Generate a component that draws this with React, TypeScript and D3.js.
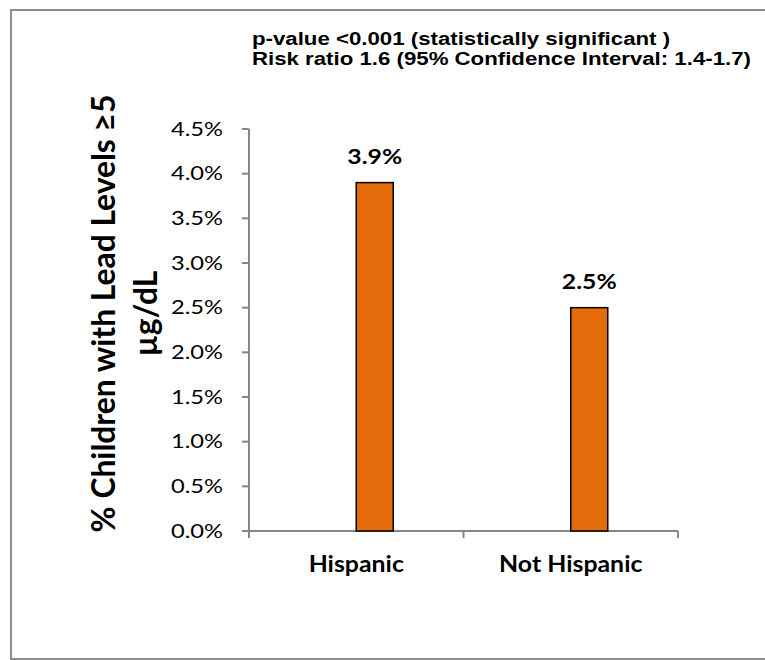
import React, { useEffect, useRef } from "react";
import * as d3 from "d3";

const categories = ["Hispanic", "Not Hispanic"];
const values = [3.9, 2.5];
const valueLabels = ["3.9%", "2.5%"];
const yTicks = [0, 0.5, 1, 1.5, 2, 2.5, 3, 3.5, 4, 4.5];
const noteLines = [
  "p-value <0.001 (statistically significant )",
  "Risk ratio 1.6 (95% Confidence Interval: 1.4-1.7)",
];
const yTitleLines = ["% Children with Lead Levels \u22655", "\u00b5g/dL"];

const W = 765;
const H = 660;
const plot = { left: 249, right: 678, top: 129, bottom: 531 };
const CAL = "Lato, 'Open Sans', sans-serif";
const ARIAL = "'Liberation Sans', Arial, sans-serif";

export default function App() {
  const ref = useRef<SVGSVGElement | null>(null);

  useEffect(() => {
    const svg = d3.select(ref.current);
    svg.selectAll("*").remove();

    const x = d3.scaleBand<string>().domain(categories).range([plot.left, plot.right]);
    const y = d3.scaleLinear().domain([0, 4.5]).range([plot.bottom, plot.top]);

    const addText = (
      px: number, py: number, txt: string, size: number, sx: number,
      anchor: string, family: string, bold: boolean
    ) =>
      svg.append("text")
        .attr("transform", `translate(${px},${py}) scale(${sx},1)`)
        .attr("text-anchor", anchor).attr("font-family", family)
        .attr("font-weight", bold ? "bold" : "normal")
        .attr("font-size", size).attr("fill", "#000").text(txt);

    // outer frame
    svg.append("rect").attr("x", 11).attr("y", 10).attr("width", W).attr("height", 649)
      .attr("fill", "white").attr("stroke", "#8c8c8c").attr("stroke-width", 2);

    // note text
    noteLines.forEach((l, i) => {
      addText(252, 45 + i * 20, l, 17.5, 1.27, "start", ARIAL, true);
    });

    // y axis
    const axisColor = "#868686";
    svg.append("line").attr("x1", plot.left).attr("x2", plot.left)
      .attr("y1", plot.top).attr("y2", plot.bottom).attr("stroke", axisColor).attr("stroke-width", 2);
    yTicks.forEach((t) => {
      svg.append("line").attr("x1", plot.left - 7).attr("x2", plot.left)
        .attr("y1", y(t)).attr("y2", y(t)).attr("stroke", axisColor).attr("stroke-width", 2);
      addText(223, y(t) + 6.8, d3.format(".1f")(t) + "%", 18.5, 1.28, "end", CAL, false);
    });

    // x axis
    svg.append("line").attr("x1", plot.left - 7).attr("x2", plot.right)
      .attr("y1", plot.bottom).attr("y2", plot.bottom).attr("stroke", axisColor).attr("stroke-width", 2);
    [plot.left, ...categories.map((c) => (x(c) as number) + x.bandwidth())].forEach((px) => {
      svg.append("line").attr("x1", px).attr("x2", px).attr("y1", plot.bottom)
        .attr("y2", plot.bottom + 7).attr("stroke", axisColor).attr("stroke-width", 2);
    });

    const barW = 37;
    categories.forEach((c, i) => {
      const cx = (x(c) as number) + x.bandwidth() / 2;
      svg.append("rect").attr("x", cx).attr("y", y(values[i]))
        .attr("width", barW).attr("height", y(0) - y(values[i]))
        .attr("fill", "#E46C0A").attr("stroke", "#000").attr("stroke-width", 1.5);
      addText(cx + barW / 2, y(values[i]) - 19, valueLabels[i], 21, 1.18, "middle", CAL, true);
      addText(cx, 572, c, 22, 1.13, "middle", CAL, true);
    });

    // y title
    const yt = svg.append("text").attr("transform", "translate(0,313.5) rotate(-90)")
      .attr("text-anchor", "middle").attr("font-family", CAL).attr("font-weight", "bold")
      .attr("font-size", 31.8).attr("fill", "#000");
    yt.append("tspan").attr("x", 0).attr("y", 115).text(yTitleLines[0]);
    yt.append("tspan").attr("x", 0).attr("y", 157).text(yTitleLines[1]);
  }, []);

  return (
    <svg ref={ref} width={W} height={H}
      style={{ position: "absolute", left: 0, top: 0, background: "white" }} />
  );
}
